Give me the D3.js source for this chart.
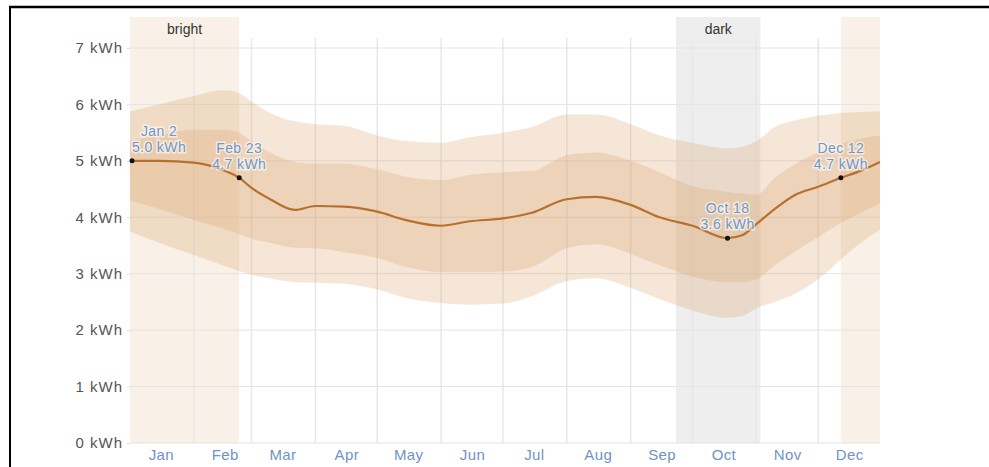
<!DOCTYPE html>
<html>
<head>
  <script src="https://cdn.jsdelivr.net/npm/d3@7"></script>
  <style>
    html, body {
      margin: 0px;
      padding: 0px;
      background: white;
    }
    svg text {
      font-family: "Liberation Sans", Arial, sans-serif;
    }
    .yLabel { font-size: 15px; fill: #555; letter-spacing: 1px; }
    .monthLabel { font-size: 15px; fill: #6f94c4; letter-spacing: 0.4px; }
    .periodLabel { font-size: 14px; fill: #333; }
    .note { font-size: 14px; fill: #7197c4; stroke: white; stroke-width: 3px; stroke-opacity: 0.6; paint-order: stroke; letter-spacing: 0.4px; }
  </style>
</head>
<body>
  <script>
    // size of the whole picture and the plot area
    const width = 989;
    const height = 467;
    const margin = {top: 17, left: 130, right: 109, bottom: 24};

    // day of year for each reading (2021 used as a neutral year)
    const dates = ["01-01","01-15","02-01","02-15","02-23","03-01","03-10","03-22","04-01","04-15",
                   "05-01","05-15","06-01","06-15","07-01","07-15","08-01","08-15","09-01","09-15",
                   "10-01","10-18","10-25","11-01","11-10","11-20","12-01","12-12","12-20","12-31"];

    // daily energy, kWh: percentile bands and median
    const p90 = [5.88, 6.0, 6.15, 6.25, 6.2, 6.05, 5.85, 5.7, 5.65, 5.62,
                 5.45, 5.35, 5.32, 5.42, 5.5, 5.6, 5.82, 5.82, 5.65, 5.45,
                 5.32, 5.22, 5.25, 5.35, 5.6, 5.72, 5.8, 5.85, 5.86, 5.88];
    const p75 = [5.35, 5.45, 5.55, 5.55, 5.5, 5.35, 5.15, 4.98, 4.95, 4.95,
                 4.85, 4.72, 4.66, 4.75, 4.8, 4.82, 5.1, 5.15, 5.0, 4.8,
                 4.55, 4.45, 4.42, 4.4, 4.7, 4.95, 5.15, 5.3, 5.38, 5.45];
    const p50 = [5.0, 5.0, 4.97, 4.84, 4.7, 4.52, 4.32, 4.13, 4.2, 4.19,
                 4.1, 3.95, 3.85, 3.93, 3.98, 4.08, 4.32, 4.36, 4.22, 4.0,
                 3.85, 3.63, 3.68, 3.88, 4.15, 4.4, 4.54, 4.7, 4.8, 4.98];
    const p25 = [4.3, 4.15, 3.95, 3.8, 3.7, 3.62, 3.55, 3.46, 3.45, 3.38,
                 3.28, 3.12, 3.03, 3.03, 3.04, 3.12, 3.45, 3.52, 3.35, 3.15,
                 2.95, 2.85, 2.85, 2.9, 3.15, 3.4, 3.65, 3.9, 4.05, 4.25];
    const p10 = [3.75, 3.55, 3.33, 3.15, 3.05, 2.98, 2.92, 2.85, 2.84, 2.82,
                 2.72, 2.57, 2.48, 2.45, 2.47, 2.6, 2.87, 2.92, 2.75, 2.55,
                 2.35, 2.22, 2.25, 2.39, 2.5, 2.65, 2.9, 3.25, 3.5, 3.78];

    const yTicks = [0, 1, 2, 3, 4, 5, 6, 7];
    const monthNames = ["Jan","Feb","Mar","Apr","May","Jun","Jul","Aug","Sep","Oct","Nov","Dec"];

    // bright and dark periods
    const brightPeriods = [["01-01","02-23"], ["12-12","12-31"]];
    const darkPeriods = [["09-23","11-03"]];

    // highlighted points
    const noteDates = ["01-02", "02-23", "10-18", "12-12"];
    const noteValues = [5.0, 4.7, 3.6, 4.7];
    const noteDots = [5.0, 4.7, 3.63, 4.7];

    const parse = s => d3.timeParse("%Y-%m-%d")("2021-" + s);

    const rows = dates.map((d, i) => ({
      date: parse(d), p10: p10[i], p25: p25[i], p50: p50[i], p75: p75[i], p90: p90[i]
    }));

    const svg = d3.select("body").append("svg")
      .attr("width", width)
      .attr("height", height);

    svg.append("rect").attr("width", width).attr("height", height).attr("fill", "white");

    const xScale = d3.scaleTime()
      .domain([parse("01-01"), parse("12-31")])
      .range([margin.left, width - margin.right]);

    const yScale = d3.scaleLinear()
      .domain([0, 7])
      .range([443, 48]);

    const plotTop = margin.top;
    const plotBottom = yScale(0);

    // period shading
    svg.selectAll(".bright")
      .data(brightPeriods)
      .enter().append("rect")
        .attr("x", d => xScale(parse(d[0])))
        .attr("width", d => xScale(parse(d[1])) - xScale(parse(d[0])))
        .attr("y", plotTop)
        .attr("height", plotBottom - plotTop)
        .attr("fill", "#f9f0e7");

    svg.selectAll(".dark")
      .data(darkPeriods)
      .enter().append("rect")
        .attr("x", d => xScale(parse(d[0])))
        .attr("width", d => xScale(parse(d[1])) - xScale(parse(d[0])))
        .attr("y", plotTop)
        .attr("height", plotBottom - plotTop)
        .attr("fill", "#eeeeee");

    // vertical month lines
    const monthStarts = d3.timeMonth.range(parse("02-01"), parse("12-31"));
    svg.selectAll(".vgrid")
      .data(monthStarts)
      .enter().append("line")
        .attr("x1", d => xScale(d)).attr("x2", d => xScale(d))
        .attr("y1", 38).attr("y2", plotBottom)
        .attr("stroke", "#e8e8e8")
        .attr("stroke-width", 1.5);

    // horizontal lines
    svg.selectAll(".hgrid")
      .data(yTicks)
      .enter().append("line")
        .attr("x1", margin.left).attr("x2", width - margin.right)
        .attr("y1", d => yScale(d)).attr("y2", d => yScale(d))
        .attr("stroke", "#e4e4e4")
        .attr("stroke-width", 1);

    // percentile bands
    const band = (lo, hi) => d3.area()
      .x(d => xScale(d.date))
      .y0(d => yScale(d[lo]))
      .y1(d => yScale(d[hi]))
      .curve(d3.curveMonotoneX);

    svg.append("path").datum(rows)
      .attr("d", band("p10", "p90"))
      .attr("fill", "rgb(215,160,100)")
      .attr("fill-opacity", 0.26);

    svg.append("path").datum(rows)
      .attr("d", band("p25", "p75"))
      .attr("fill", "rgb(215,160,100)")
      .attr("fill-opacity", 0.26);

    // median
    svg.append("path").datum(rows)
      .attr("d", d3.line().x(d => xScale(d.date)).y(d => yScale(d.p50)).curve(d3.curveMonotoneX))
      .attr("fill", "none")
      .attr("stroke", "#b8702f")
      .attr("stroke-width", 2.2);

    // y axis labels
    const yAxis = svg.append("g")
      .attr("transform", `translate(${margin.left},0)`)
      .call(d3.axisLeft(yScale).tickValues(yTicks).tickSize(3).tickPadding(4).tickFormat(d => d + " kWh"));
    yAxis.select(".domain").remove();
    yAxis.selectAll("line").attr("stroke", "#ddd");
    yAxis.selectAll("text").attr("class", "yLabel").attr("font-size", null).attr("font-family", null).attr("fill", null);

    // month labels at mid month
    const midMonths = monthNames.map((m, i) => new Date(2021, i, 16));
    const xAxis = svg.append("g")
      .attr("transform", `translate(0,${plotBottom})`)
      .call(d3.axisBottom(xScale).tickValues(midMonths).tickSize(0).tickPadding(6).tickFormat(d3.timeFormat("%b")));
    xAxis.select(".domain").remove();
    xAxis.selectAll("text").attr("class", "monthLabel").attr("font-size", null).attr("font-family", null).attr("fill", null);

    // period labels
    svg.append("text")
      .attr("class", "periodLabel")
      .attr("x", (xScale(parse(brightPeriods[0][0])) + xScale(parse(brightPeriods[0][1]))) / 2)
      .attr("y", 34)
      .attr("text-anchor", "middle")
      .text("bright");

    svg.append("text")
      .attr("class", "periodLabel")
      .attr("x", (xScale(parse(darkPeriods[0][0])) + xScale(parse(darkPeriods[0][1]))) / 2)
      .attr("y", 34)
      .attr("text-anchor", "middle")
      .text("dark");

    // highlighted points with labels
    const fmt = d3.timeFormat("%b %-d");
    noteDates.forEach((s, i) => {
      const cx = xScale(parse(s));
      const cy = yScale(noteDots[i]);
      const tx = Math.max(cx, margin.left + 29);
      svg.append("text").attr("class", "note")
        .attr("x", tx).attr("y", cy - 25).attr("text-anchor", "middle")
        .text(fmt(parse(s)));
      svg.append("text").attr("class", "note")
        .attr("x", tx).attr("y", cy - 9).attr("text-anchor", "middle")
        .text(noteValues[i].toFixed(1) + " kWh");
      svg.append("circle")
        .attr("cx", cx).attr("cy", cy).attr("r", 2.5)
        .attr("fill", "#111");
    });

    // frame edges of the screenshot
    svg.append("line").attr("x1", 9).attr("x2", width).attr("y1", 7).attr("y2", 7)
      .attr("stroke", "black").attr("stroke-width", 2.5);
    svg.append("line").attr("x1", 10).attr("x2", 10).attr("y1", 6).attr("y2", height)
      .attr("stroke", "black").attr("stroke-width", 2);
  </script>
</body>
</html>
